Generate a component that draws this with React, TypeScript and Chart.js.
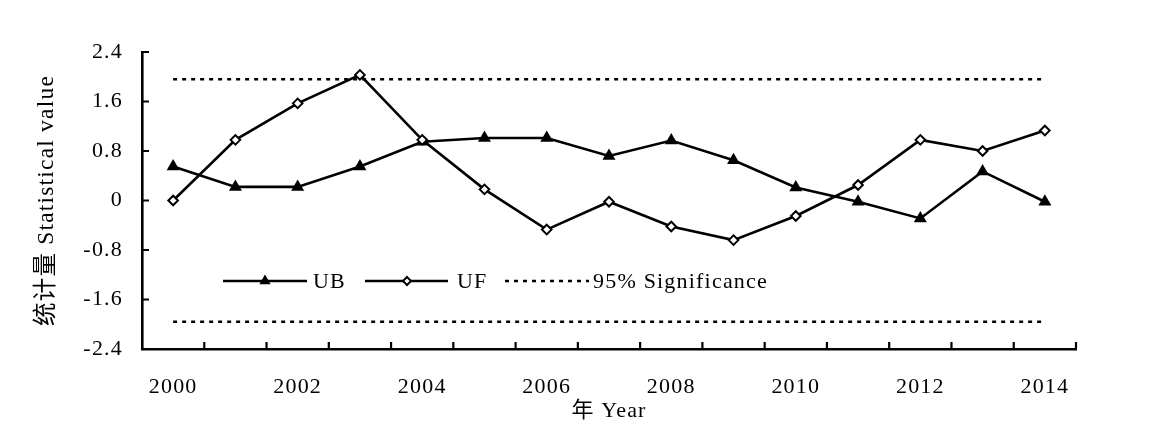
import React, { useEffect, useRef } from 'react';
import { Chart, registerables } from 'chart.js';

Chart.register(...registerables);

const YEARS = ['2000', '2001', '2002', '2003', '2004', '2005', '2006', '2007', '2008', '2009', '2010', '2011', '2012', '2013', '2014'];
const X_LABELED = ['2000', '2002', '2004', '2006', '2008', '2010', '2012', '2014'];
const UB = [0.55, 0.22, 0.22, 0.55, 0.95, 1.01, 1.01, 0.72, 0.97, 0.65, 0.21, -0.02, -0.29, 0.47, -0.02];
const UF = [0, 0.98, 1.57, 2.03, 0.98, 0.18, -0.47, -0.02, -0.42, -0.64, -0.25, 0.25, 0.98, 0.8, 1.13];
const SIG_UPPER = [1.96, 1.96, 1.96, 1.96, 1.96, 1.96, 1.96, 1.96, 1.96, 1.96, 1.96, 1.96, 1.96, 1.96, 1.96];
const SIG_LOWER = [-1.96, -1.96, -1.96, -1.96, -1.96, -1.96, -1.96, -1.96, -1.96, -1.96, -1.96, -1.96, -1.96, -1.96, -1.96];
const Y_TICKS = [-2.4, -1.6, -0.8, 0, 0.8, 1.6, 2.4];
const Y_TITLE = '统计量 Statistical value';
const X_TITLE = '年 Year';
const LEGEND_LABELS = ['UB', 'UF', '95% Significance'];

const FONT = "'Liberation Serif', 'Noto Sans CJK SC', serif";
const SPACING = '1.2px';
const INK = '#000';

const spacingPlugin = {
  id: 'letterSpacing',
  beforeLayout(chart: any) {
    chart.ctx.letterSpacing = SPACING;
  },
  beforeDraw(chart: any) {
    chart.ctx.letterSpacing = SPACING;
  },
};

const innerTicksPlugin = {
  id: 'innerTicks',
  afterDraw(chart: any) {
    const { ctx, chartArea } = chart;
    const xs = chart.scales.x;
    const ys = chart.scales.y;
    ctx.save();
    ctx.strokeStyle = INK;
    ctx.lineWidth = 2.2;
    ctx.beginPath();
    for (let i = 1; i <= YEARS.length; i++) {
      const px = xs.getPixelForValue(i - 0.5);
      ctx.moveTo(px, chartArea.bottom);
      ctx.lineTo(px, chartArea.bottom - 7);
    }
    Y_TICKS.forEach((v) => {
      const py = ys.getPixelForValue(v);
      ctx.moveTo(chartArea.left, py);
      ctx.lineTo(chartArea.left + 7, py);
    });
    ctx.stroke();
    ctx.restore();
  },
};

function drawTriangle(ctx: CanvasRenderingContext2D, x: number, y: number, r: number) {
  ctx.beginPath();
  for (let k = 0; k < 3; k++) {
    const a = (k * 2 * Math.PI) / 3;
    const px = x + Math.sin(a) * r;
    const py = y - Math.cos(a) * r;
    if (k === 0) ctx.moveTo(px, py);
    else ctx.lineTo(px, py);
  }
  ctx.closePath();
  ctx.fillStyle = INK;
  ctx.fill();
}

function drawDiamond(ctx: CanvasRenderingContext2D, x: number, y: number, r: number) {
  ctx.beginPath();
  ctx.moveTo(x, y - r);
  ctx.lineTo(x + r, y);
  ctx.lineTo(x, y + r);
  ctx.lineTo(x - r, y);
  ctx.closePath();
  ctx.fillStyle = '#fff';
  ctx.fill();
  ctx.lineWidth = 2;
  ctx.strokeStyle = INK;
  ctx.stroke();
}

const legendPlugin = {
  id: 'lineLegend',
  afterDraw(chart: any) {
    const { ctx, chartArea } = chart;
    const y = chartArea.top + 229;
    const x0 = chartArea.left + 81;
    ctx.save();
    ctx.letterSpacing = SPACING;
    ctx.font = `22px ${FONT}`;
    ctx.textBaseline = 'middle';
    ctx.textAlign = 'left';
    ctx.strokeStyle = INK;
    ctx.lineWidth = 2.6;

    // UB
    ctx.beginPath();
    ctx.moveTo(x0, y);
    ctx.lineTo(x0 + 84, y);
    ctx.stroke();
    drawTriangle(ctx, x0 + 42, y, 6.5);
    ctx.fillStyle = INK;
    ctx.fillText(LEGEND_LABELS[0], x0 + 90, y + 1);

    // UF
    const x1 = x0 + 142;
    ctx.beginPath();
    ctx.moveTo(x1, y);
    ctx.lineTo(x1 + 83, y);
    ctx.lineWidth = 2.6;
    ctx.strokeStyle = INK;
    ctx.stroke();
    drawDiamond(ctx, x1 + 42, y, 4);
    ctx.fillStyle = INK;
    ctx.fillText(LEGEND_LABELS[1], x1 + 92, y + 1);

    // Significance
    const x2 = x0 + 282;
    ctx.beginPath();
    ctx.setLineDash([4, 5]);
    ctx.lineWidth = 2.6;
    ctx.moveTo(x2, y);
    ctx.lineTo(x2 + 84, y);
    ctx.stroke();
    ctx.setLineDash([]);
    ctx.fillText(LEGEND_LABELS[2], x2 + 88, y + 1);
    ctx.restore();
  },
};

export default function App() {
  const ref = useRef<HTMLCanvasElement>(null);

  useEffect(() => {
    const canvas = ref.current;
    if (!canvas) return;
    const chart = new Chart(canvas, {
      type: 'line',
      data: {
        labels: YEARS,
        datasets: [
          {
            label: LEGEND_LABELS[1],
            data: UF,
            borderColor: INK,
            borderWidth: 2.6,
            tension: 0,
            pointStyle: 'rectRot',
            pointRadius: 4.8,
            pointBorderWidth: 2,
            pointBackgroundColor: '#fff',
            pointBorderColor: INK,
            order: 0,
          },
          {
            label: LEGEND_LABELS[0],
            data: UB,
            borderColor: INK,
            borderWidth: 2.6,
            tension: 0,
            pointStyle: 'triangle',
            pointRadius: 7.5,
            pointBorderWidth: 0,
            pointBackgroundColor: INK,
            pointBorderColor: INK,
            order: 1,
          },
          {
            label: LEGEND_LABELS[2],
            data: SIG_UPPER,
            borderColor: INK,
            borderWidth: 2.6,
            borderDash: [4, 5],
            pointRadius: 0,
            order: 2,
          },
          {
            label: '',
            data: SIG_LOWER,
            borderColor: INK,
            borderWidth: 2.6,
            borderDash: [4, 5],
            pointRadius: 0,
            order: 2,
          },
        ],
      },
      options: {
        responsive: false,
        animation: false,
        layout: { padding: { left: 30, right: 100, top: 52, bottom: 0 } },
        plugins: {
          legend: { display: false },
          tooltip: { enabled: false },
        },
        scales: {
          x: {
            type: 'category',
            offset: true,
            grid: { display: true, drawOnChartArea: false, drawTicks: false },
            border: { display: true, color: INK, width: 2.6 },
            ticks: {
              autoSkip: false,
              maxRotation: 0,
              padding: 25,
              color: INK,
              font: { family: FONT, size: 22 },
              callback: (_v: any, index: number) => {
                const l = YEARS[index];
                return X_LABELED.includes(l) ? l : '';
              },
            },
            title: {
              display: true,
              text: X_TITLE,
              color: INK,
              font: { family: FONT, size: 22 },
              padding: { top: 4, bottom: 14 },
            },
            afterFit: (s: any) => {
              s.height = 89;
            },
          },
          y: {
            min: -2.4,
            max: 2.4,
            grid: { display: true, drawOnChartArea: false, drawTicks: false },
            border: { display: true, color: INK, width: 2.6 },
            afterBuildTicks: (s: any) => {
              s.ticks = Y_TICKS.map((v) => ({ value: v }));
            },
            ticks: {
              padding: 19,
              color: INK,
              font: { family: FONT, size: 22 },
              callback: (v: any) => {
                const n = Number(v);
                return Math.abs(n) < 1e-9 ? '0' : n.toFixed(1);
              },
            },
            title: {
              display: true,
              text: Y_TITLE,
              color: INK,
              font: { family: FONT, size: 23.5 },
              padding: { top: 3, bottom: 4 },
            },
            afterFit: (s: any) => {
              s.width = 112;
            },
          },
        },
      },
      plugins: [spacingPlugin, innerTicksPlugin, legendPlugin],
    });
    return () => chart.destroy();
  }, []);

  return (
    <canvas
      ref={ref}
      width={1176}
      height={438}
      style={{ position: 'absolute', left: 0, top: 0, width: 1176, height: 438, background: '#fff' }}
    />
  );
}
